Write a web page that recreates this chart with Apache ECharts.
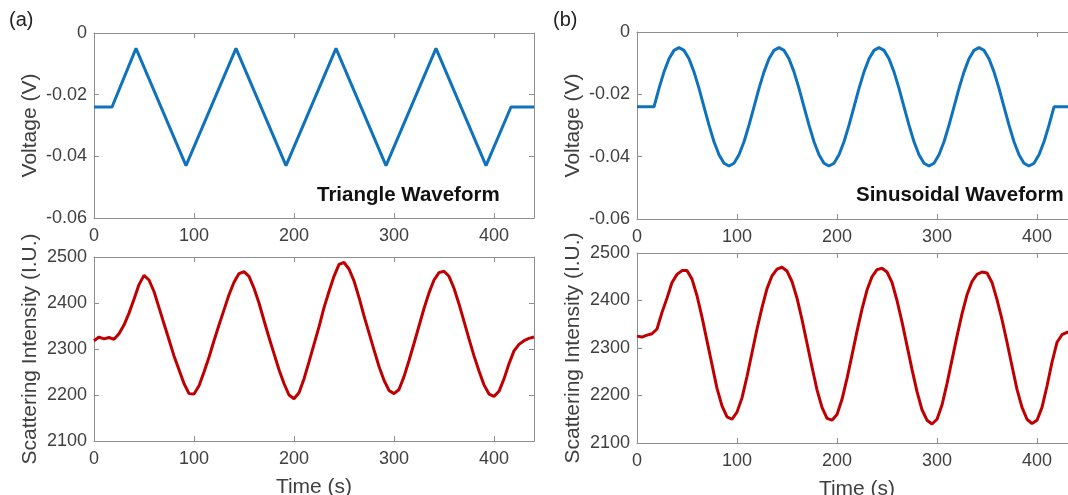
<!DOCTYPE html>
<html>
<head>
<meta charset="utf-8">
<script src="https://cdn.jsdelivr.net/npm/echarts@6/dist/echarts.min.js"></script>
<style>
html,body{margin:0;padding:0;background:#fff;}
#c{width:1068px;height:495px;}
</style>
</head>
<body>
<div id="c"></div>
<script>
// ---- Data ----
const timeTicks = [0, 100, 200, 300, 400];
const voltTicks = [0, -0.02, -0.04, -0.06];
const intensityTicks = [2100, 2200, 2300, 2400, 2500];

// (a) triangle waveform voltage (vertices)
const triTime = [0, 18, 42, 92, 142, 192, 242, 292, 342, 392, 417, 440];
const triVolt = [-0.024, -0.024, -0.005, -0.043, -0.005, -0.043, -0.005, -0.043, -0.005, -0.043, -0.024, -0.024];

// (b) sinusoidal waveform voltage
const sinTime = [0, 17, 22, 27, 32, 37, 42, 47, 52, 57, 62, 67, 72, 77, 82, 87, 92, 97, 102, 107, 112, 117,
  122, 127, 132, 137, 142, 147, 152, 157, 162, 167, 172, 177, 182, 187, 192, 197, 202, 207, 212, 217,
  222, 227, 232, 237, 242, 247, 252, 257, 262, 267, 272, 277, 282, 287, 292, 297, 302, 307, 312, 317,
  322, 327, 332, 337, 342, 347, 352, 357, 362, 367, 372, 377, 382, 387, 392, 397, 402, 407, 412, 417, 440];
const sinVolt = [-0.024, -0.024, -0.0181, -0.0128, -0.0086, -0.0059, -0.005, -0.0059, -0.0086, -0.0128, -0.0181,
  -0.024, -0.0299, -0.0352, -0.0394, -0.0421, -0.043, -0.0421, -0.0394, -0.0352, -0.0299,
  -0.024, -0.0181, -0.0128, -0.0086, -0.0059, -0.005, -0.0059, -0.0086, -0.0128, -0.0181,
  -0.024, -0.0299, -0.0352, -0.0394, -0.0421, -0.043, -0.0421, -0.0394, -0.0352, -0.0299,
  -0.024, -0.0181, -0.0128, -0.0086, -0.0059, -0.005, -0.0059, -0.0086, -0.0128, -0.0181,
  -0.024, -0.0299, -0.0352, -0.0394, -0.0421, -0.043, -0.0421, -0.0394, -0.0352, -0.0299,
  -0.024, -0.0181, -0.0128, -0.0086, -0.0059, -0.005, -0.0059, -0.0086, -0.0128, -0.0181,
  -0.024, -0.0299, -0.0352, -0.0394, -0.0421, -0.043, -0.0421, -0.0394, -0.0352, -0.0299,
  -0.024, -0.024];

// scattering intensity sample times (s)
const intTime = [0, 5, 10, 15, 20, 25, 30, 35, 40, 45, 50, 55, 60, 65, 70, 75, 80, 85, 90, 95,
  100, 105, 110, 115, 120, 125, 130, 135, 140, 145, 150, 155, 160, 165, 170, 175, 180, 185, 190, 195,
  200, 205, 210, 215, 220, 225, 230, 235, 240, 245, 250, 255, 260, 265, 270, 275, 280, 285, 290, 295,
  300, 305, 310, 315, 320, 325, 330, 335, 340, 345, 350, 355, 360, 365, 370, 375, 380, 385, 390, 395,
  400, 405, 410, 415, 420, 425, 430, 435, 440];

// (a) intensity response to triangle waveform
const triIntensity = [2318, 2326, 2322, 2325, 2321, 2333, 2352, 2378, 2408, 2440, 2460, 2450, 2425, 2390, 2355, 2320, 2285, 2255, 2225, 2203,
  2202, 2220, 2250, 2282, 2318, 2352, 2385, 2418, 2445, 2464, 2468, 2458, 2432, 2400, 2362, 2325, 2290, 2255, 2225, 2200,
  2192, 2205, 2235, 2272, 2310, 2348, 2390, 2425, 2458, 2484, 2488, 2474, 2448, 2412, 2372, 2335, 2298, 2262, 2232, 2210,
  2203, 2212, 2240, 2275, 2312, 2350, 2388, 2422, 2450, 2466, 2469, 2458, 2432, 2398, 2360, 2322, 2285, 2252, 2222, 2202,
  2197, 2208, 2235, 2268, 2296, 2310, 2318, 2323, 2326];

// (b) intensity response to sinusoidal waveform
const sinIntensity = [2325, 2323, 2327, 2330, 2340, 2375, 2405, 2438, 2455, 2463, 2463, 2445, 2410, 2365, 2315, 2265, 2215, 2178, 2155, 2150,
  2165, 2195, 2240, 2290, 2340, 2385, 2425, 2452, 2466, 2470, 2462, 2440, 2405, 2360, 2310, 2260, 2212, 2175, 2152, 2148,
  2160, 2192, 2236, 2285, 2335, 2382, 2422, 2450, 2465, 2468, 2460, 2438, 2400, 2355, 2305, 2255, 2208, 2170, 2148, 2140,
  2150, 2180, 2225, 2275, 2325, 2372, 2412, 2440, 2455, 2460, 2458, 2438, 2402, 2360, 2312, 2262, 2213, 2175, 2150, 2141,
  2148, 2175, 2220, 2270, 2312, 2328, 2333, 2334, 2335];

// ---- Styling ----
const FONT = 'Liberation Sans, Arial, sans-serif';
const LABEL = '#404040';
const AXIS = '#8f8f8f';
const BLUE = '#0e72bd';
const RED = '#c00000';

const zip = (xs, ys) => xs.map((x, i) => [x, ys[i]]);

// all panels span 0..440 s; the right panels run past the image edge
const grids = [
  {left: 94, top: 33, width: 440, height: 185},
  {left: 94, top: 257, width: 440, height: 184},
  {left: 637, top: 32, width: 440, height: 187},
  {left: 637, top: 253, width: 440, height: 190}
];

const tickStyle = {show: true, inside: true, length: 5, lineStyle: {color: AXIS, width: 1}};
const lineStyle = {show: true, onZero: false, lineStyle: {color: AXIS, width: 1}};

const xAxes = [], yAxes = [];
grids.forEach((g, i) => {
  const isIntensity = (i === 1 || i === 3);
  xAxes.push({
    type: 'value', gridIndex: i, position: 'bottom', min: 0, max: 440, interval: 100,
    axisLine: lineStyle, axisTick: tickStyle, splitLine: {show: false},
    axisLabel: {fontSize: 18, color: LABEL, fontFamily: FONT, margin: 9, showMaxLabel: false,
      formatter: v => timeTicks.includes(v) ? String(v) : ''},
    name: isIntensity ? 'Time (s)' : '', nameLocation: 'middle', nameGap: 36,
    nameTextStyle: {fontSize: 21, color: LABEL, fontFamily: FONT}
  });
  xAxes.push({
    type: 'value', gridIndex: i, position: 'top', min: 0, max: 440, interval: 100,
    axisLine: lineStyle, axisTick: tickStyle, splitLine: {show: false}, axisLabel: {show: false}
  });
  const yCommon = isIntensity
    ? {min: 2100, max: 2500, interval: 100}
    : {min: -0.06, max: 0, interval: 0.02};
  yAxes.push(Object.assign({
    type: 'value', gridIndex: i, position: 'left',
    axisLine: lineStyle, axisTick: tickStyle, splitLine: {show: false},
    axisLabel: {fontSize: 18, color: LABEL, fontFamily: FONT, margin: 7,
      formatter: v => {
        if (isIntensity) return intensityTicks.includes(Math.round(v)) ? String(Math.round(v)) : '';
        const r = Math.round(v * 100) / 100;
        return r === 0 ? '0' : r.toFixed(2);
      }},
    name: isIntensity ? 'Scattering Intensity (I.U.)' : 'Voltage (V)',
    nameLocation: 'middle', nameGap: 53,
    nameTextStyle: {fontSize: 21, color: LABEL, fontFamily: FONT}
  }, yCommon));
  yAxes.push(Object.assign({
    type: 'value', gridIndex: i, position: 'right',
    axisLine: lineStyle, axisTick: tickStyle, splitLine: {show: false}, axisLabel: {show: false}
  }, yCommon));
});

const mkSeries = (i, data, color) => ({
  type: 'line', xAxisIndex: i * 2, yAxisIndex: i * 2, data: data,
  showSymbol: false, symbol: 'none', smooth: false, clip: true,
  lineStyle: {color: color, width: 3}, itemStyle: {color: color}, animation: false
});

const option = {
  backgroundColor: '#ffffff',
  animation: false,
  grid: grids.map(g => ({left: g.left, top: g.top, width: g.width, height: g.height,
    containLabel: false, outerBoundsMode: 'none'})),
  xAxis: xAxes,
  yAxis: yAxes,
  series: [
    mkSeries(0, zip(triTime, triVolt), BLUE),
    mkSeries(1, zip(intTime, triIntensity), RED),
    mkSeries(2, zip(sinTime, sinVolt), BLUE),
    mkSeries(3, zip(intTime, sinIntensity), RED)
  ],
  graphic: [
    {type: 'text', left: 9, top: 10, style: {text: '(a)', fontSize: 20, fill: '#222', fontFamily: FONT}},
    {type: 'text', left: 553, top: 10, style: {text: '(b)', fontSize: 20, fill: '#222', fontFamily: FONT}},
    {type: 'text', left: 317, top: 185, style: {text: 'Triangle Waveform', fontSize: 20.5, fontWeight: 'bold', fill: '#111', fontFamily: FONT}},
    {type: 'text', left: 856, top: 185, style: {text: 'Sinusoidal Waveform', fontSize: 20.5, fontWeight: 'bold', fill: '#111', fontFamily: FONT}}
  ]
};

const chart = echarts.init(document.getElementById('c'), null, {renderer: 'canvas'});
chart.setOption(option);
</script>
</body>
</html>
